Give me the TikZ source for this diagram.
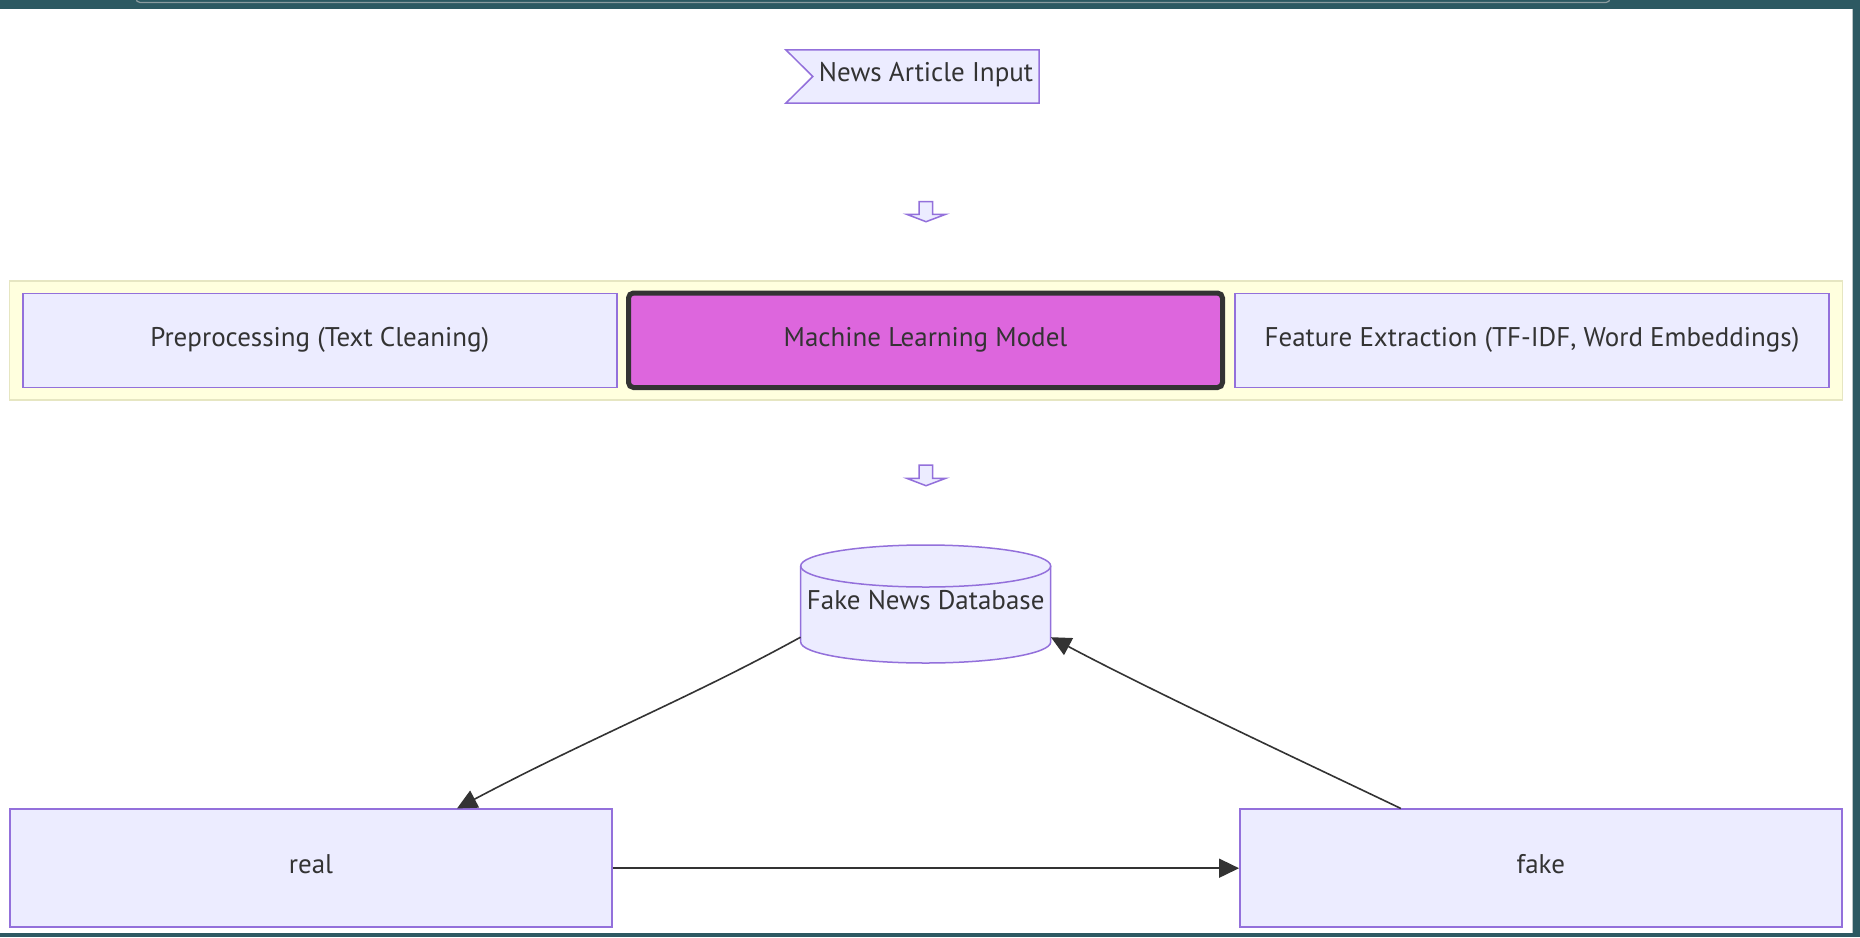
\documentclass[tikz,border=0pt]{standalone}
\usepackage{fontspec}
\setmainfont{PT Sans}
\usetikzlibrary{arrows.meta,calc}
\definecolor{nodefill}{HTML}{ECECFF}
\definecolor{nodeline}{HTML}{9370DB}
\definecolor{clusterfill}{HTML}{FFFFDE}
\definecolor{clusterline}{HTML}{E6E6C2}
\definecolor{ink}{HTML}{333333}
\definecolor{mlfill}{HTML}{DD66DD}
\definecolor{framecol}{HTML}{2D5962}
\definecolor{tabline}{HTML}{8C9CA0}
\tikzset{
  box/.style={draw=nodeline, fill=nodefill, line width=1.5pt, text=ink, inner sep=0pt},
  mlbox/.style={draw=ink, fill=mlfill, line width=5pt, rounded corners=5pt, text=ink, inner sep=0pt},
  clusterbox/.style={draw=clusterline, fill=clusterfill, line width=1.5pt, inner sep=0pt},
  lbl/.style={text=ink, inner sep=0pt},
  conn/.style={draw=ink, line width=1.6pt, -{Triangle[length=20pt,width=19pt]}},
  blockarrow/.style={draw=nodeline, fill=nodefill, line width=1.5pt, line join=miter}
}
\begin{document}
\begin{tikzpicture}[x=1pt,y=-1pt,font=\fontsize{27}{32}\selectfont]
\useasboundingbox (0,0) rectangle (1860,937);
% page background and window frame
\fill[white] (0,0) rectangle (1860,937);
\fill[framecol] (0,0) rectangle (1860,8.5);
\fill[framecol] (1853,0) rectangle (1860,937);
\fill[framecol] (0,933) rectangle (1860,937);
\draw[tabline, line width=1.2pt, rounded corners=4pt] (136,-6) -- (136,2.5) -- (1610,2.5) -- (1610,-6);
\draw[tabline!60, line width=0.8pt] (1852.5,8.5) -- (1852.5,933);

% input flag
\node[lbl, minimum width=253pt, minimum height=53pt] (news) at (912.5,76.5) {};
\draw[box] (news.north west) -- (news.north east) -- (news.south east) -- (news.south west) -- ($(news.west)+(27,0)$) -- cycle;
\node[lbl] (newslbl) at (926,74.5) {News Article Input};

% block arrow 1
\draw[blockarrow] (919,201.7) -- (932.7,201.7) -- (932.7,214.3) -- (945.7,214.3) -- (926,221.7) -- (906.7,214.3) -- (919,214.3) -- cycle;

% cluster
\node[clusterbox, minimum width=1833pt, minimum height=119pt] (cluster) at (926,340.4) {};
\node[box, minimum width=594pt, minimum height=94pt] (pre) at (319.75,340.3) {Preprocessing (Text Cleaning)};
\node[mlbox, minimum width=594pt, minimum height=94.5pt] (ml) at (925.5,340.25) {Machine Learning Model};
\node[box, minimum width=594pt, minimum height=94pt] (feat) at (1532,340.3) {Feature Extraction (TF-IDF, Word Embeddings)};

% block arrow 2
\draw[blockarrow] (919,465) -- (932.7,465) -- (932.7,478.3) -- (945.7,478.3) -- (926,485.7) -- (906.7,478.3) -- (919,478.3) -- cycle;

% database cylinder
\draw[box] (800.7,566) -- (800.7,642) arc (180:0:125 and 21) -- (1050.7,566) arc (0:-180:125 and 21) -- cycle;
\draw[draw=nodeline, line width=1.5pt] (800.7,566) arc (180:0:125 and 21);
\node[lbl, minimum width=250pt, minimum height=118pt] (db) at (925.7,604) {};
\node[lbl] (dblbl) at (925.7,600.5) {Fake News Database};

% outcome boxes
\node[box, minimum width=602pt, minimum height=118pt] (real) at (311,868.2) {};
\node[lbl] (reallbl) at (311,864.5) {real};
\node[box, minimum width=602pt, minimum height=118pt] (fake) at (1540.8,868.2) {};
\node[lbl] (fakelbl) at (1540.8,864.5) {fake};

% connectors
\draw[conn] ($(db.south west)+(0,-26)$) .. controls (690,698) and (590,738) .. ($(real.north)+(146,0)$);
\draw[conn] ($(fake.north)+(-140,0)$) .. controls (1310,765) and (1150,690) .. ($(db.south east)+(0,-26)$);
\draw[conn] (real.east) -- (fake.west);
\end{tikzpicture}
\end{document}
